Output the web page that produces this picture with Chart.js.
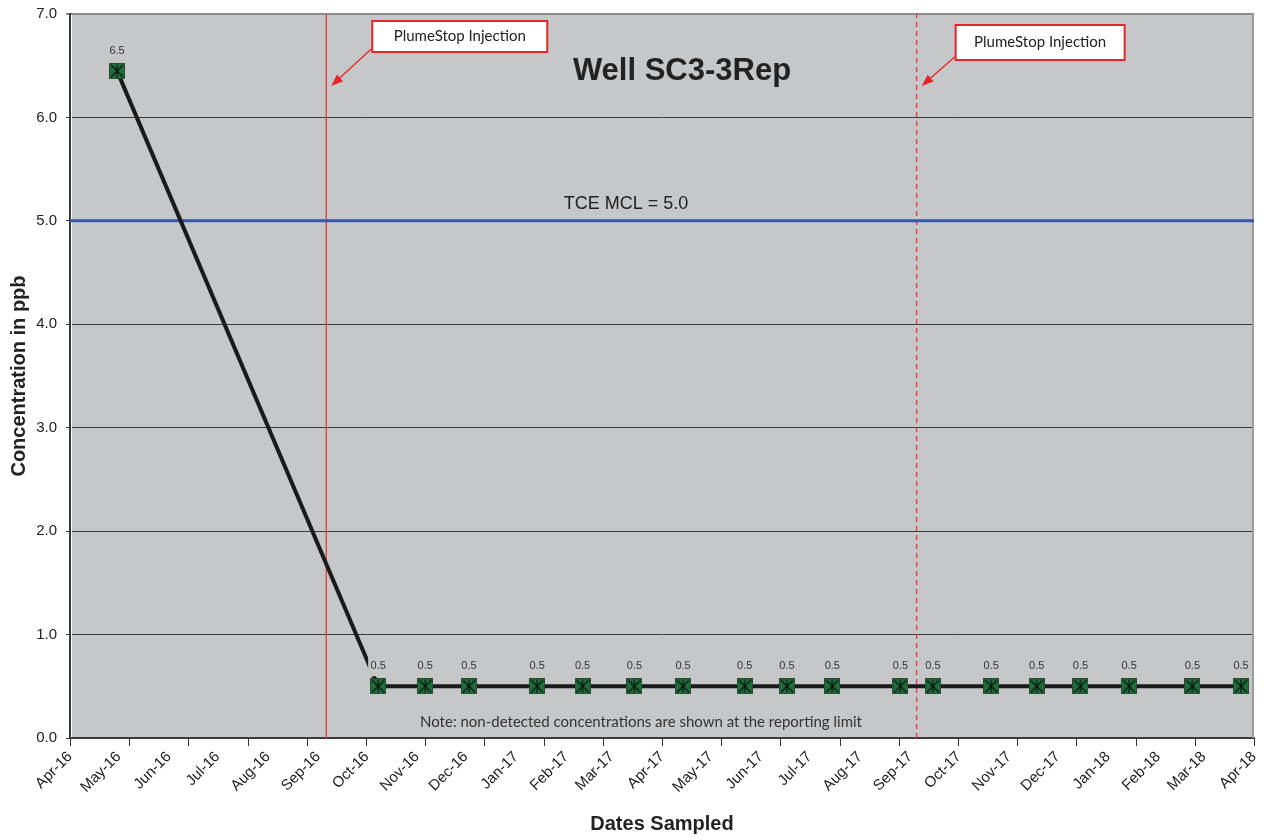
<!DOCTYPE html>
<html>
<head>
<meta charset="utf-8">
<script src="https://cdn.jsdelivr.net/npm/chart.js@4.4.1/dist/chart.umd.min.js"></script>
<style>
  html, body { margin: 0; padding: 0; background: #fff; }
</style>
</head>
<body>
<canvas id="chart" width="1271" height="840"></canvas>
<script>
// Sample dates and TCE results (ppb); non-detects plotted at reporting limit
const sampleDates = ['2016-04-30', '2016-10-08', '2016-11-06', '2016-12-03', '2017-01-14',
  '2017-02-11', '2017-03-15', '2017-04-14', '2017-05-22', '2017-06-17', '2017-07-15',
  '2017-08-26', '2017-09-15', '2017-10-21', '2017-11-18', '2017-12-15', '2018-01-14',
  '2018-02-22', '2018-03-24'];
const tceValues = [6.45, 0.5, 0.5, 0.5, 0.5, 0.5, 0.5, 0.5, 0.5, 0.5, 0.5,
  0.5, 0.5, 0.5, 0.5, 0.5, 0.5, 0.5, 0.5];
const valueLabels = ['6.5', '0.5', '0.5', '0.5', '0.5', '0.5', '0.5', '0.5', '0.5', '0.5', '0.5',
  '0.5', '0.5', '0.5', '0.5', '0.5', '0.5', '0.5', '0.5'];

const injectionDates = ['2016-09-06', '2017-09-05'];
const mclValue = 5.0;

const xTickLabels = ['Apr-16', 'May-16', 'Jun-16', 'Jul-16', 'Aug-16', 'Sep-16', 'Oct-16',
  'Nov-16', 'Dec-16', 'Jan-17', 'Feb-17', 'Mar-17', 'Apr-17', 'May-17', 'Jun-17', 'Jul-17',
  'Aug-17', 'Sep-17', 'Oct-17', 'Nov-17', 'Dec-17', 'Jan-18', 'Feb-18', 'Mar-18', 'Apr-18'];
const yTicks = [0, 1, 2, 3, 4, 5, 6, 7];

const monthNames = ['Jan', 'Feb', 'Mar', 'Apr', 'May', 'Jun', 'Jul', 'Aug', 'Sep', 'Oct', 'Nov', 'Dec'];
const origin = Date.UTC(2016, 3, 1);

// days since 1 Apr 2016 (no date adapter available, so a linear axis is used)
function dayNum(s) {
  const [y, m, d] = s.split('-').map(Number);
  return (Date.UTC(y, m - 1, d) - origin) / 86400000;
}
function labelDay(label) {
  const [mon, yy] = label.split('-');
  return (Date.UTC(2000 + Number(yy), monthNames.indexOf(mon), 1) - origin) / 86400000;
}

const tickDays = xTickLabels.map(labelDay);
const xMin = tickDays[0];
const xMax = tickDays[tickDays.length - 1];

const SANS = '"Liberation Sans", Arial, sans-serif';
const NOTE = 'Lato, "Open Sans", sans-serif';
const plotGray = '#c6c7c9';

// green square marker with black asterisk
function makeMarker() {
  const s = 16;
  const c = document.createElement('canvas');
  c.width = s; c.height = s;
  const g = c.getContext('2d');
  g.fillStyle = '#1e6e3a';
  g.fillRect(0, 0, s, s);
  g.strokeStyle = '#2b4a33';
  g.lineWidth = 1;
  g.strokeRect(0.5, 0.5, s - 1, s - 1);
  g.strokeStyle = '#111';
  g.lineWidth = 1.2;
  g.beginPath();
  g.moveTo(2, 2); g.lineTo(s - 2, s - 2);
  g.moveTo(s - 2, 2); g.lineTo(2, s - 2);
  g.moveTo(s / 2, 1.5); g.lineTo(s / 2, s - 1.5);
  g.stroke();
  return c;
}

const plotBackground = {
  id: 'plotBackground',
  beforeDraw(chart) {
    const { ctx, chartArea: a } = chart;
    ctx.save();
    ctx.fillStyle = plotGray;
    ctx.fillRect(a.left, a.top, a.right - a.left, a.bottom - a.top);
    ctx.restore();
  },
  beforeDatasetsDraw(chart) {
    const { ctx, chartArea: a } = chart;
    ctx.save();
    ctx.strokeStyle = '#ffffff';
    ctx.lineWidth = 1;
    ctx.beginPath();
    ctx.moveTo(a.left + 1.5, a.top + 1);
    ctx.lineTo(a.left + 1.5, a.bottom - 1);
    ctx.stroke();
    ctx.strokeStyle = '#9c9c9e';
    ctx.lineWidth = 2;
    ctx.beginPath();
    ctx.moveTo(a.right - 1, a.top);
    ctx.lineTo(a.right - 1, a.bottom);
    ctx.stroke();
    // minor tick marks on the date axis (20 equal intervals)
    ctx.strokeStyle = '#333';
    ctx.lineWidth = 1;
    ctx.beginPath();
    for (let i = 0; i <= 20; i++) {
      const x = Math.round(a.left + (a.right - a.left) * i / 20) + 0.5;
      ctx.moveTo(x, a.bottom + 1);
      ctx.lineTo(x, a.bottom + 8);
    }
    ctx.stroke();
    ctx.restore();
  }
};

function drawArrow(ctx, x1, y1, x2, y2) {
  const ang = Math.atan2(y2 - y1, x2 - x1);
  const len = 12, half = 4.5;
  const bx = x2 - len * Math.cos(ang), by = y2 - len * Math.sin(ang);
  ctx.beginPath();
  ctx.moveTo(x1, y1);
  ctx.lineTo(bx, by);
  ctx.stroke();
  ctx.beginPath();
  ctx.moveTo(x2, y2);
  ctx.lineTo(bx + half * Math.sin(ang), by - half * Math.cos(ang));
  ctx.lineTo(bx - half * Math.sin(ang), by + half * Math.cos(ang));
  ctx.closePath();
  ctx.fill();
}

function drawCallout(ctx, lineX, dx, top, w, h) {
  const left = lineX + dx;
  ctx.fillStyle = '#ffffff';
  ctx.fillRect(left, top, w, h);
  ctx.strokeStyle = '#e5252b';
  ctx.lineWidth = 2;
  ctx.strokeRect(left, top, w, h);
  ctx.fillStyle = '#222';
  ctx.font = '15px ' + NOTE;
  ctx.textAlign = 'center';
  ctx.textBaseline = 'middle';
  ctx.fillText('PlumeStop Injection', left + w / 2, top + h / 2);
  ctx.strokeStyle = '#e5252b';
  ctx.fillStyle = '#e5252b';
  ctx.lineWidth = 1.3;
  drawArrow(ctx, left - 1, top + h - 3, lineX + 5, 86);
}

const annotations = {
  id: 'annotations',
  afterDatasetsDraw(chart) {
    const { ctx } = chart;
    const xs = chart.scales.x, ys = chart.scales.y;
    ctx.save();
    // value labels with background that hides the line behind them
    const meta = chart.getDatasetMeta(0);
    ctx.font = '11px ' + SANS;
    ctx.textAlign = 'center';
    ctx.textBaseline = 'middle';
    meta.data.forEach((pt, i) => {
      const cy = pt.y - 20;
      ctx.fillStyle = plotGray;
      ctx.fillRect(pt.x - 10, cy - 10, 20, 20);
      ctx.fillStyle = '#333';
      ctx.fillText(valueLabels[i], pt.x, cy);
    });

    ctx.fillStyle = '#222';
    ctx.font = 'bold 31px ' + SANS;
    ctx.textBaseline = 'alphabetic';
    ctx.fillText('Well SC3-3Rep', 682, 80);

    ctx.font = '18px ' + SANS;
    ctx.fillText('TCE MCL = ' + mclValue.toFixed(1), 626, ys.getPixelForValue(mclValue) - 12);

    ctx.font = '15px ' + NOTE;
    ctx.fillStyle = '#333';
    ctx.textBaseline = 'middle';
    ctx.fillText('Note: non-detected concentrations are shown at the reporting limit', 641, 722);

    const l1 = xs.getPixelForValue(dayNum(injectionDates[0]));
    const l2 = xs.getPixelForValue(dayNum(injectionDates[1]));
    drawCallout(ctx, l1, 46, 21, 175, 31);
    drawCallout(ctx, l2, 39, 25, 169, 35);
    ctx.restore();
  }
};

const seriesPoints = sampleDates.map((d, i) => ({ x: dayNum(d), y: tceValues[i] }));

new Chart(document.getElementById('chart'), {
  type: 'line',
  data: {
    datasets: [
      {
        label: 'TCE',
        data: seriesPoints,
        borderColor: '#1a1a1a',
        borderWidth: 4,
        pointStyle: makeMarker(),
        pointRadius: 8,
        order: 0
      },
      {
        label: 'MCL',
        data: [{ x: xMin, y: mclValue }, { x: xMax, y: mclValue }],
        borderColor: '#3556a6',
        borderWidth: 3,
        pointRadius: 0,
        order: 1
      },
      {
        label: 'Injection 1',
        data: [{ x: dayNum(injectionDates[0]), y: 0 }, { x: dayNum(injectionDates[0]), y: 7 }],
        borderColor: '#e8383f',
        borderWidth: 1.3,
        pointRadius: 0,
        order: 2
      },
      {
        label: 'Injection 2',
        data: [{ x: dayNum(injectionDates[1]), y: 0 }, { x: dayNum(injectionDates[1]), y: 7 }],
        borderColor: '#e8383f',
        borderWidth: 1.3,
        borderDash: [5, 4],
        pointRadius: 0,
        order: 2
      }
    ]
  },
  options: {
    responsive: false,
    animation: false,
    devicePixelRatio: 1,
    layout: { padding: { top: 14, right: 17, left: 0, bottom: 0 } },
    plugins: {
      legend: { display: false },
      tooltip: { enabled: false }
    },
    scales: {
      x: {
        type: 'linear',
        min: xMin,
        max: xMax,
        afterBuildTicks(scale) {
          scale.ticks = tickDays.map(v => ({ value: v }));
        },
        afterFit(scale) { scale.height = 102; },
        ticks: {
          autoSkip: false,
          minRotation: 45,
          maxRotation: 45,
          padding: 4,
          color: '#222',
          font: { family: SANS, size: 15 },
          callback(value) {
            const i = tickDays.indexOf(value);
            return i >= 0 ? xTickLabels[i] : '';
          }
        },
        grid: { drawOnChartArea: false, color: 'transparent', tickLength: 6 },
        border: { display: true, color: '#3a3a3a', width: 2 },
        title: {
          display: true,
          text: 'Dates Sampled',
          color: '#222',
          font: { family: SANS, size: 20, weight: 'bold' },
          padding: { top: 0, bottom: 4 }
        }
      },
      y: {
        min: 0,
        max: 7,
        afterBuildTicks(scale) {
          scale.ticks = yTicks.map(v => ({ value: v }));
        },
        afterFit(scale) {
          scale.width = 70;
          scale.paddingTop = 0;
          scale.paddingBottom = 0;
        },
        ticks: {
          padding: 9,
          color: '#222',
          font: { family: SANS, size: 15 },
          callback: v => v.toFixed(1)
        },
        grid: {
          color: c => (c.tick && c.tick.value === 7 ? '#8c8c8e' : '#3a3a3a'),
          lineWidth: c => (c.tick && c.tick.value === 7 ? 2 : 1),
          tickLength: 4
        },
        border: { display: true, color: '#3a3a3a', width: 2 },
        title: {
          display: true,
          text: 'Concentration in ppb',
          color: '#222',
          font: { family: SANS, size: 20, weight: 'bold' },
          padding: { top: 7, bottom: 0 }
        }
      }
    }
  },
  plugins: [plotBackground, annotations]
});
</script>
</body>
</html>
